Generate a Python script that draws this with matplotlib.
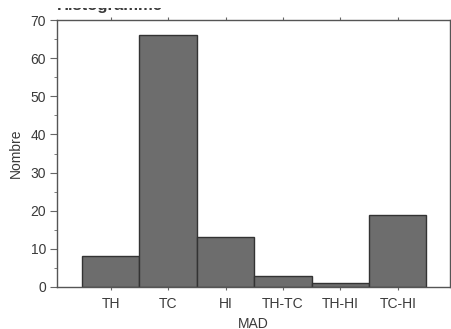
import matplotlib
matplotlib.use('Agg')
import matplotlib.pyplot as plt
import numpy as np
from matplotlib.transforms import Bbox

categories = ['TH', 'TC', 'HI', 'TH-TC', 'TH-HI', 'TC-HI']
counts = [8, 66, 13, 3, 1, 19]

plt.rcParams['font.family'] = ['Liberation Sans', 'DejaVu Sans']

fig = plt.figure(figsize=(4.52, 3.29), dpi=100)
ax = fig.add_axes([57/452, 1-287/329, (450-57)/452, (287-20)/329])

x = np.arange(1, len(categories) + 1)
ax.bar(x, counts, width=1.0, color='#6d6d6d', edgecolor='#333333', linewidth=1.0)

ax.set_xlim(0.065, 6.91)
ax.set_ylim(0, 70)
ax.set_xticks(x)
ax.set_xticklabels(categories)
ax.set_yticks(np.arange(0, 71, 10))
ax.set_yticks(np.arange(5, 70, 10), minor=True)
ax.tick_params(axis='both', labelsize=10, colors='#666666', labelcolor='#3a3a3a')
ax.tick_params(axis='x', top=True, direction='out', length=2.5, pad=5)
ax.tick_params(axis='y', which='major', length=5, pad=3)
ax.tick_params(axis='y', which='minor', length=2.5, colors='#666666')
for s in ax.spines.values():
    s.set_color('#555555')
    s.set_linewidth(1.0)

ax.set_ylabel('Nombre', fontsize=10, color='#3a3a3a', labelpad=5)
ax.set_xlabel('MAD', fontsize=10, color='#3a3a3a', labelpad=4)

# title is only partly visible in the original (top part cropped away)
title = fig.text(57/452, 1-10/329, 'Histogramme', fontsize=12, fontweight='bold',
                 color='#3a3a3a', ha='left', va='baseline')
title.set_clip_box(Bbox([[0, 0], [452, 329-8]]))
title.set_clip_on(True)

fig.savefig('out.png', dpi=100)
